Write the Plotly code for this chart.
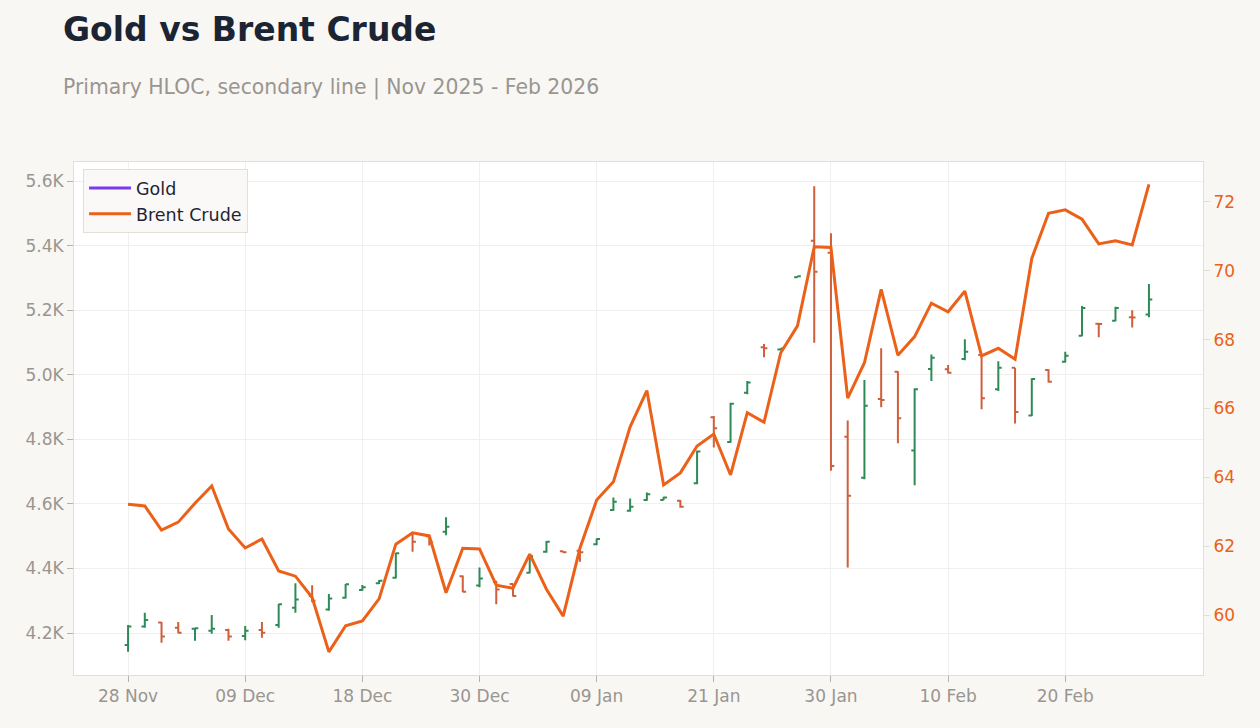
import plotly.graph_objects as go

dates = ["2025-11-28", "2025-12-01", "2025-12-02", "2025-12-03", "2025-12-04", "2025-12-05",
         "2025-12-08", "2025-12-09", "2025-12-10", "2025-12-11", "2025-12-12", "2025-12-15",
         "2025-12-16", "2025-12-17", "2025-12-18", "2025-12-19", "2025-12-22", "2025-12-23",
         "2025-12-24", "2025-12-26", "2025-12-29", "2025-12-30", "2025-12-31", "2026-01-02",
         "2026-01-05", "2026-01-06", "2026-01-07", "2026-01-08", "2026-01-09", "2026-01-12",
         "2026-01-13", "2026-01-14", "2026-01-15", "2026-01-16", "2026-01-20", "2026-01-21",
         "2026-01-22", "2026-01-23", "2026-01-26", "2026-01-27", "2026-01-28", "2026-01-29",
         "2026-01-30", "2026-02-02", "2026-02-03", "2026-02-04", "2026-02-05", "2026-02-06",
         "2026-02-09", "2026-02-10", "2026-02-11", "2026-02-12", "2026-02-13", "2026-02-17",
         "2026-02-18", "2026-02-19", "2026-02-20", "2026-02-23", "2026-02-24", "2026-02-25",
         "2026-02-26", "2026-02-27"]

gold_open = [4163, 4220, 4233, 4216, 4213, 4207, 4209, 4191, 4209, 4225, 4278, 4315, 4273, 4309,
             4333, 4354, 4371, 4506, 4500, 4514, 4376, 4347, 4358, 4352, 4387, 4452, 4453, 4455,
             4475, 4581, 4579, 4612, 4612, 4610, 4664, 4868, 4792, 4944, 5085, 5078, 5302, 5415,
             5378, 4808, 4681, 4925, 5009, 4765, 5018, 5017, 5049, 5061, 4955, 5022, 4874, 5015,
             5040, 5121, 5158, 5167, 5178, 5187]
gold_high = [4225, 4263, 4234, 4234, 4215, 4256, 4213, 4222, 4234, 4290, 4354, 4348, 4321, 4352,
             4349, 4364, 4449, 4509, 4503, 4559, 4378, 4403, 4362, 4353, 4442, 4485, 4454, 4462,
             4493, 4620, 4617, 4635, 4622, 4612, 4765, 4872, 4913, 4981, 5095, 5082, 5306, 5584,
             5438, 4858, 4984, 5082, 5011, 4958, 5063, 5030, 5110, 5063, 5042, 5022, 4989, 5017,
             5071, 5213, 5159, 5211, 5200, 5281]
gold_low = [4142, 4216, 4170, 4199, 4176, 4198, 4176, 4178, 4185, 4216, 4263, 4295, 4269, 4307,
            4331, 4352, 4369, 4452, 4471, 4503, 4326, 4342, 4289, 4313, 4385, 4449, 4449, 4421,
            4472, 4579, 4576, 4610, 4612, 4588, 4661, 4775, 4789, 4940, 5054, 5077, 5301, 5099,
            4703, 4403, 4676, 4899, 4788, 4658, 4981, 5004, 5045, 4893, 4950, 4849, 4872, 4976,
            5038, 5119, 5116, 5166, 5146, 5178]
gold_close = [4220, 4240, 4189, 4201, 4215, 4213, 4189, 4207, 4201, 4289, 4304, 4300, 4307, 4351,
              4342, 4362, 4447, 4483, 4482, 4529, 4328, 4369, 4335, 4315, 4438, 4483, 4450, 4450,
              4491, 4607, 4591, 4630, 4620, 4591, 4762, 4834, 4910, 4976, 5082, 5081, 5305, 5319,
              4717, 4625, 4904, 4922, 4865, 4955, 5053, 5006, 5071, 4927, 5022, 4885, 4987, 4978,
              5059, 5207, 5157, 5207, 5177, 5233]

brent = [63.22, 63.17, 62.47, 62.70, 63.25, 63.75, 62.50, 61.95, 62.21, 61.28, 61.13, 60.51,
         58.93, 59.69, 59.83, 60.47, 62.06, 62.39, 62.30, 60.65, 61.94, 61.92, 60.87, 60.78,
         61.77, 60.75, 59.97, 61.94, 63.34, 63.87, 65.47, 66.52, 63.78, 64.13, 64.91, 65.26,
         64.07, 65.88, 65.60, 67.62, 68.40, 70.70, 70.68, 66.30, 67.33, 69.46, 67.55, 68.09,
         69.06, 68.81, 69.41, 67.53, 67.75, 67.43, 70.36, 71.67, 71.77, 71.50, 70.78, 70.87,
         70.75, 72.51]

x_tick_idx = [0, 7, 14, 21, 28, 35, 42, 49, 56]
x_tick_text = ["28 Nov", "09 Dec", "18 Dec", "30 Dec", "09 Jan", "21 Jan", "30 Jan", "10 Feb", "20 Feb"]
gold_ticks = [4200, 4400, 4600, 4800, 5000, 5200, 5400, 5600]
gold_tick_text = ["4.2K", "4.4K", "4.6K", "4.8K", "5.0K", "5.2K", "5.4K", "5.6K"]
brent_ticks = [60, 62, 64, 66, 68, 70, 72]

FONT = "DejaVu Sans"
GREEN = "#2e8b57"
RED = "#cf5f3b"
ORANGE = "#ec6119"
PURPLE = "#7c3aed"
GRAY = "#9a958f"

fig = go.Figure()
fig.add_trace(go.Ohlc(
    x=dates, open=gold_open, high=gold_high, low=gold_low, close=gold_close,
    name="Gold", showlegend=False, tickwidth=0.2,
    increasing=dict(line=dict(color=GREEN, width=2)),
    decreasing=dict(line=dict(color=RED, width=2)),
))
fig.add_trace(go.Scatter(x=[None], y=[None], mode="lines", name="Gold",
                         line=dict(color=PURPLE, width=3)))
fig.add_trace(go.Scatter(x=dates, y=brent, mode="lines", name="Brent Crude", yaxis="y2",
                         line=dict(color=ORANGE, width=3)))

fig.update_layout(
    width=1260, height=728,
    margin=dict(l=74, r=57, t=162, b=53),
    paper_bgcolor="#f8f7f4", plot_bgcolor="#ffffff",
    font=dict(family=FONT, size=17, color=GRAY),
    showlegend=True,
    legend=dict(x=0.008, y=0.986, xanchor="left", yanchor="top", itemwidth=42,
                bgcolor="rgba(250,249,247,0.92)", bordercolor="#e3ded6", borderwidth=1,
                font=dict(family=FONT, size=17.5, color="#1e2433")),
    xaxis=dict(type="category", range=[-3.23, 64.23],
               tickvals=[dates[i] for i in x_tick_idx], ticktext=x_tick_text,
               showgrid=True, gridcolor="#f0efed", gridwidth=1,
               showline=True, linecolor="#e3ded6", linewidth=1, mirror=True,
               ticks="outside", ticklen=6, tickcolor="#b5b0a9",
               rangeslider=dict(visible=False), zeroline=False),
    yaxis=dict(range=[4070, 5659], tickvals=gold_ticks, ticktext=gold_tick_text,
               showgrid=True, gridcolor="#f0efed", gridwidth=1,
               showline=True, linecolor="#e3ded6", linewidth=1, mirror=True,
               ticks="outside", ticklen=6, tickcolor="#b5b0a9", zeroline=False),
    yaxis2=dict(range=[58.26, 73.16], tickvals=brent_ticks, overlaying="y", side="right",
                showgrid=False, zeroline=False, ticks="outside", ticklen=6,
                tickcolor="#e3ded6", tickfont=dict(color=ORANGE, size=17, family=FONT)),
    annotations=[
        dict(text="<b>Gold vs Brent Crude</b>", xref="paper", yref="paper",
             x=-0.0115, y=1.259, xanchor="left", yanchor="middle", showarrow=False,
             font=dict(family=FONT, size=33, color="#1b2433")),
        dict(text="Primary HLOC, secondary line | Nov 2025 - Feb 2026", xref="paper", yref="paper",
             x=-0.0115, y=1.145, xanchor="left", yanchor="middle", showarrow=False,
             font=dict(family=FONT, size=20.4, color=GRAY)),
    ],
)

fig.write_html("out.html")
